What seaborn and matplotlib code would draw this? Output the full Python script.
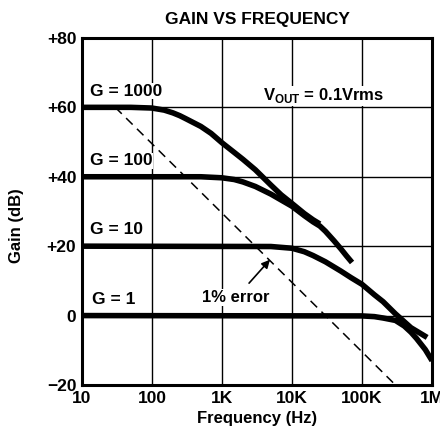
import numpy as np
import pandas as pd
import seaborn as sns
import matplotlib.pyplot as plt

# values
freq_g1000 = [10, 50, 100, 150, 200, 250, 300, 500, 700, 1000, 1500, 2000, 3000,
              5000, 7000, 10000, 15000, 20000, 25000]
gain_g1000 = [60, 60, 59.8, 59.2, 58.4, 57.6, 56.8, 54.5, 52.5, 49.8, 47, 45, 42,
              37.6, 34.8, 32.3, 29.4, 27.6, 26.4]

freq_g100 = [10, 500, 1000, 1500, 2000, 3000, 5000, 7000, 10000, 15000, 20000,
             25000, 30000, 40000, 50000, 60000, 72000]
gain_g100 = [40, 40, 39.7, 39.2, 38.5, 37.2, 35, 33.3, 31.5, 28.8, 27, 25.8,
             24.3, 21.5, 19.2, 17.2, 15.3]

freq_g10 = [10, 5000, 10000, 15000, 20000, 30000, 50000, 70000, 100000, 150000,
            200000, 300000, 500000, 850000]
gain_g10 = [20, 19.9, 19.4, 18.4, 17.3, 15.5, 12.8, 10.9, 9, 6, 4, 0.5, -3.5, -6.3]

freq_g1 = [10, 100000, 150000, 200000, 300000, 400000, 500000, 600000, 800000, 1000000]
gain_g1 = [0, -0.1, -0.3, -0.7, -1.4, -3, -4.8, -6.6, -9.8, -13]

freq_err = [30, 300000]
gain_err = [60, -20]

x_ticks = [10, 100, 1000, 10000, 100000, 1000000]
x_labels = ['10', '100', '1K', '10K', '100K', '1M']
y_ticks = [-20, 0, 20, 40, 60, 80]
y_labels = ['\u221220', '0', '+20', '+40', '+60', '+80']

sns.set_theme(style='white')
plt.rcParams['font.family'] = ['Liberation Sans', 'DejaVu Sans']
plt.rcParams['font.weight'] = 'bold'
plt.rcParams['mathtext.fontset'] = 'custom'
plt.rcParams['mathtext.rm'] = 'Liberation Sans:bold'

fig = plt.figure(figsize=(4.4, 4.36), dpi=100)
ax = fig.add_axes([0.186, 0.117, 0.796, 0.796])

curves = [
    ('G = 1000', freq_g1000, gain_g1000),
    ('G = 100', freq_g100, gain_g100),
    ('G = 10', freq_g10, gain_g10),
    ('G = 1', freq_g1, gain_g1),
]
for name, f, g in curves:
    df = pd.DataFrame({'freq': f, 'gain': g})
    sns.lineplot(data=df, x='freq', y='gain', ax=ax, color='black',
                 linewidth=4.0, solid_capstyle='butt', solid_joinstyle='round', zorder=3)

df_err = pd.DataFrame({'freq': freq_err, 'gain': gain_err})
sns.lineplot(data=df_err, x='freq', y='gain', ax=ax, color='black',
             linewidth=1.1, linestyle=(0, (6, 4)), zorder=2)

ax.set_xscale('log')
ax.set_xlim(10, 1e6)
ax.set_ylim(-20, 80)
ax.set_xticks(x_ticks)
ax.set_xticklabels(x_labels)
ax.set_yticks(y_ticks)
ax.set_yticklabels(y_labels)
ax.minorticks_off()
ax.tick_params(length=0, labelsize=12.5, colors='black', pad=4)
ax.grid(True, color='black', linewidth=1.0)
for s in ax.spines.values():
    s.set_color('black')
    s.set_linewidth(2.2)

ax.set_title('GAIN VS FREQUENCY', fontsize=12.5, pad=10, color='black', fontweight='bold')
ax.set_xlabel('Frequency (Hz)', fontsize=12, color='black', labelpad=4, fontweight='bold')
ax.set_ylabel('Gain (dB)', fontsize=12, color='black', fontweight='bold')
ax.yaxis.set_label_coords(-0.165, 0.46)

# curve labels
label_pos = [(13, 64.7), (13, 44.6), (13, 24.7), (14, 4.6)]
for (name, _, _), (lx, ly) in zip(curves, label_pos):
    ax.text(lx, ly, name, fontsize=12.5, va='center', ha='left', color='black',
            fontweight='bold', bbox=dict(facecolor='white', edgecolor='none', pad=0.5))

ax.text(3800, 63.3, r'V$_{\rm OUT}$ = 0.1Vrms', fontsize=12, va='center', ha='left',
        color='black', fontweight='bold',
        bbox=dict(facecolor='white', edgecolor='none', pad=0.5))

ax.annotate('1% error', xy=(4850, 16.1), xytext=(1600, 5.2), fontsize=12,
            ha='center', va='center', color='black', fontweight='bold',
            bbox=dict(facecolor='white', edgecolor='none', pad=0.5),
            arrowprops=dict(arrowstyle='-|>', color='black', lw=1.2,
                            shrinkA=6, shrinkB=0, mutation_scale=12))

fig.savefig('out.png', dpi=100)
